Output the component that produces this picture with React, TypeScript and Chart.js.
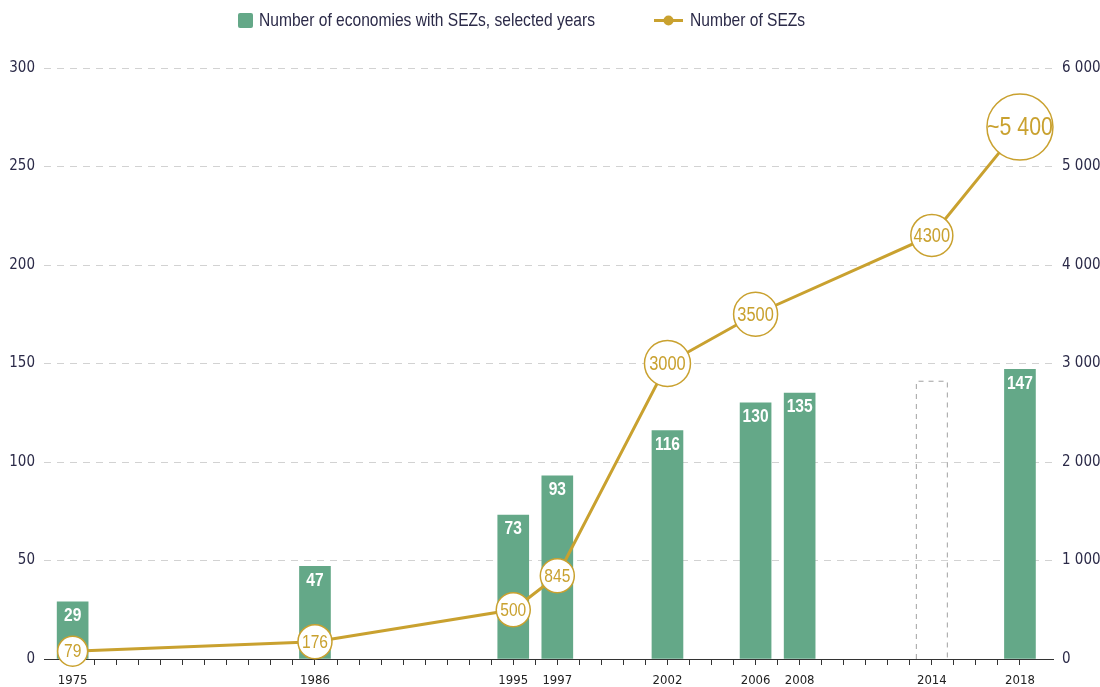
import React, { useEffect, useRef } from "react";
import { Chart, registerables } from "chart.js";

Chart.register(...registerables);

// ---- data ----
const labeledYears = [1975, 1986, 1995, 1997, 2002, 2006, 2008, 2014, 2018];
const economiesYears = [1975, 1986, 1995, 1997, 2002, 2006, 2008, 2018];
const economiesValues = [29, 47, 73, 93, 116, 130, 135, 147];
const estimatedYear = 2014;
const estimatedEconomies = 141;
const sezYears = [1975, 1986, 1995, 1997, 2002, 2006, 2014, 2018];
const sezValues = [79, 176, 500, 845, 3000, 3500, 4300, 5400];
const sezLabels = ["79", "176", "500", "845", "3000", "3500", "4300", "~5 400"];
const sezRadii = [15, 17, 17, 17, 23, 22, 21, 33];
const sezFontSizes = [19, 19, 19, 19, 20, 20, 20, 26];
const economiesLabel = "Number of economies with SEZs, selected years";
const sezLabel = "Number of SEZs";

const GREEN = "#64a888";
const GOLD = "#c9a12f";
const TEXT = "#2b2a48";
const TICK_FONT = "'DejaVu Sans Condensed', 'Liberation Sans', sans-serif";
const LABEL_FONT = "'Liberation Sans', Arial, sans-serif";
const SQUEEZE = 0.82;

const fmt = (v: number) => String(v).replace(/\B(?=(\d{3})+(?!\d))/g, " ");

function squeezedText(ctx: CanvasRenderingContext2D, text: string, x: number, y: number, align: CanvasTextAlign) {
  ctx.save();
  ctx.translate(x, y);
  ctx.scale(SQUEEZE, 1);
  ctx.textAlign = align;
  ctx.fillText(text, 0, 0);
  ctx.restore();
}

const labelsPlugin = {
  id: "customLabels",
  beforeDatasetsDraw(chart: any) {
    const { ctx, scales } = chart;
    const x = scales.x.getPixelForValue(estimatedYear);
    const yTop = scales.y.getPixelForValue(estimatedEconomies);
    const y0 = scales.y.getPixelForValue(0);
    const w = 31;
    ctx.save();
    ctx.strokeStyle = "#a0a0a0";
    ctx.lineWidth = 1;
    ctx.setLineDash([5, 5]);
    ctx.beginPath();
    ctx.moveTo(x - w / 2, y0);
    ctx.lineTo(x - w / 2, yTop);
    ctx.lineTo(x + w / 2, yTop);
    ctx.lineTo(x + w / 2, y0);
    ctx.stroke();
    ctx.restore();
  },
  afterDatasetsDraw(chart: any) {
    const { ctx } = chart;
    ctx.save();
    ctx.textBaseline = "middle";
    const barMeta = chart.getDatasetMeta(0);
    ctx.fillStyle = "#ffffff";
    ctx.font = `bold 19px ${LABEL_FONT}`;
    barMeta.data.forEach((el: any, i: number) => {
      squeezedText(ctx, String(economiesValues[i]), el.x, el.y + 14, "center");
    });
    const lineMeta = chart.getDatasetMeta(1);
    ctx.fillStyle = GOLD;
    lineMeta.data.forEach((el: any, i: number) => {
      ctx.font = `${sezFontSizes[i]}px ${LABEL_FONT}`;
      squeezedText(ctx, sezLabels[i], el.x, el.y + 1, "center");
    });
    ctx.restore();
  },
  afterDraw(chart: any) {
    // legend
    const { ctx } = chart;
    ctx.save();
    ctx.fillStyle = GREEN;
    ctx.beginPath();
    (ctx as any).roundRect(238, 13, 15, 15, 2);
    ctx.fill();
    ctx.fillStyle = TEXT;
    ctx.font = `19px ${LABEL_FONT}`;
    ctx.textBaseline = "middle";
    squeezedText(ctx, economiesLabel, 259, 21, "left");
    ctx.strokeStyle = GOLD;
    ctx.lineWidth = 3;
    ctx.beginPath();
    ctx.moveTo(654, 20.5);
    ctx.lineTo(683, 20.5);
    ctx.stroke();
    ctx.fillStyle = GOLD;
    ctx.beginPath();
    ctx.arc(668.5, 20.5, 5, 0, Math.PI * 2);
    ctx.fill();
    ctx.fillStyle = TEXT;
    squeezedText(ctx, sezLabel, 690, 21, "left");
    ctx.restore();
  },
};

export default function App() {
  const canvasRef = useRef<HTMLCanvasElement | null>(null);

  useEffect(() => {
    document.documentElement.style.overflow = "hidden";
    document.body.style.margin = "0";
    document.body.style.overflow = "hidden";
    const canvas = canvasRef.current;
    if (!canvas) return;
    const minorTicks: number[] = [];
    for (let y = labeledYears[0]; y <= labeledYears[labeledYears.length - 1]; y++) minorTicks.push(y);

    const chart = new Chart(canvas, {
      type: "bar",
      data: {
        datasets: [
          {
            type: "bar",
            label: economiesLabel,
            data: economiesYears.map((x, i) => ({ x, y: economiesValues[i] })),
            backgroundColor: GREEN,
            barThickness: 31,
            yAxisID: "y",
            order: 2,
          } as any,
          {
            type: "line",
            label: sezLabel,
            data: sezYears.map((x, i) => ({ x, y: sezValues[i] })),
            borderColor: GOLD,
            borderWidth: 3,
            pointRadius: sezRadii,
            pointHoverRadius: sezRadii,
            pointBackgroundColor: "#ffffff",
            pointBorderColor: GOLD,
            pointBorderWidth: 1.5,
            yAxisID: "y1",
            order: 1,
            clip: false,
          } as any,
        ],
      },
      options: {
        animation: false,
        responsive: true,
        maintainAspectRatio: false,
        layout: { autoPadding: false, padding: { top: 68, left: 0, right: 0, bottom: 0 } },
        plugins: { legend: { display: false }, tooltip: { enabled: false } },
        scales: {
          x: {
            type: "linear",
            offset: false,
            min: 1973.7,
            max: 2019.5,
            afterBuildTicks: (axis: any) => {
              axis.ticks = minorTicks.map((v) => ({ value: v }));
            },
            afterFit: (axis: any) => {
              axis.height = 28;
            },
            ticks: {
              autoSkip: false,
              maxRotation: 0,
              padding: 8,
              color: "#222222",
              font: { family: TICK_FONT, size: 13 },
              callback: (v: any) => (labeledYears.includes(Number(v)) ? String(v) : ""),
            },
            grid: { drawOnChartArea: false, drawTicks: true, tickLength: 6, color: "#333333", offset: false },
            border: { display: true, color: "#333333", width: 1 },
          },
          y: {
            type: "linear",
            position: "left",
            min: 0,
            max: 300,
            afterFit: (axis: any) => {
              axis.width = 44;
            },
            ticks: {
              stepSize: 50,
              padding: 9,
              color: TEXT,
              font: { family: TICK_FONT, size: 15 },
            },
            grid: {
              drawTicks: false,
              color: (c: any) => (c.tick && c.tick.value === 0 ? "rgba(0,0,0,0)" : "#d2d2d2"),
            },
            border: { display: false, dash: [7, 6] },
          },
          y1: {
            type: "linear",
            position: "right",
            min: 0,
            max: 6000,
            afterFit: (axis: any) => {
              axis.width = 47;
            },
            ticks: {
              stepSize: 1000,
              padding: 9,
              color: TEXT,
              font: { family: TICK_FONT, size: 15 },
              callback: (v: any) => fmt(Number(v)),
            },
            grid: { drawOnChartArea: false, drawTicks: false },
            border: { display: false },
          },
        },
      } as any,
      plugins: [labelsPlugin],
    });
    return () => chart.destroy();
  }, []);

  return (
    <div style={{ position: "fixed", left: 0, top: 0, width: 1100, height: 687, overflow: "hidden" }}>
      <canvas ref={canvasRef} />
    </div>
  );
}
